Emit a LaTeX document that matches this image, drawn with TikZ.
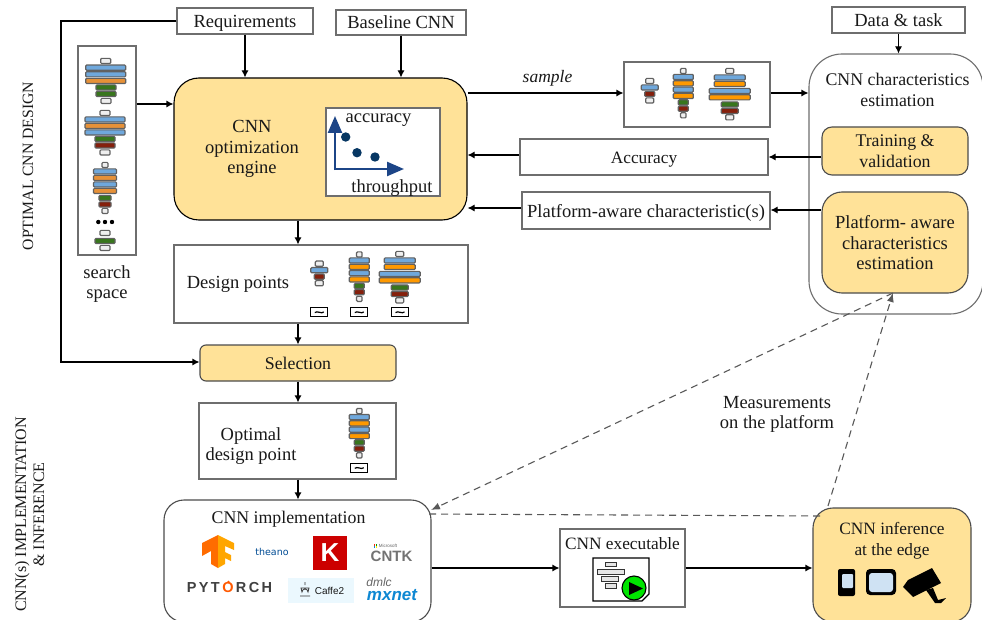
\documentclass[tikz,border=0pt]{standalone}
\usepackage{fontspec}
\setmainfont{Liberation Serif}
\setsansfont{Liberation Sans}
\newfontfamily\dejasans{DejaVu Sans}
\usetikzlibrary{arrows.meta}
\definecolor{yel}{HTML}{FFE298}
\definecolor{bord}{HTML}{6E6E6E}
\definecolor{lblue}{HTML}{6FA8DC}
\definecolor{lorange}{HTML}{FF9900}
\definecolor{sorange}{HTML}{E69138}
\definecolor{lgreen}{HTML}{38761D}
\definecolor{lred}{HTML}{85200C}
\definecolor{lwhite}{HTML}{EFEFEF}
\definecolor{chart}{HTML}{1C4587}
\definecolor{dotc}{HTML}{073763}
\definecolor{screenc}{HTML}{CFE2F3}
\newcommand{\fsm}{\fontsize{17.3}{20.5}\selectfont}
\newcommand{\fmd}{\fontsize{17.8}{20.5}\selectfont}
\tikzset{
 x=1pt,y=-1pt,
 txt/.style={font=\fontsize{18.5}{20.5}\selectfont,align=center,inner sep=0pt,text=black!90,text depth=0pt},
 box/.style={draw=bord,line width=1.1pt,fill=white,txt},
 ybox/.style={draw=black!70,line width=1.1pt,fill=yel,txt},
 conn/.style={line width=1.1pt,-{Latex[length=7pt,width=7pt]},black},
 dconn/.style={line width=1.1pt,dash pattern=on 7pt off 5pt,black!65},
}
\newcommand{\lay}[4]{\fill[#4,draw=black!62,line width=1.2pt,rounded corners=1pt] (#1-#3/2,#2-2.6) rectangle (#1+#3/2,#2+2.6);}
\newcommand{\tildebox}[2]{\draw[black,line width=1.2pt,fill=white] (#1-8.5,#2-4.5) rectangle (#1+8.5,#2+4.5);
 \draw[black,line width=1.2pt] (#1-4.5,#2+0.3) .. controls (#1-2,#2-2) and (#1+2,#2+2) .. (#1+4.5,#2-0.3);}
\newcommand{\boxN}[2]{%
 \lay{#1}{#2}{5.5}{lwhite}\lay{#1}{#2+6}{20}{lblue}\lay{#1}{#2+12.3}{20}{lorange}\lay{#1}{#2+18.6}{20}{lblue}\lay{#1}{#2+25}{20}{lorange}\lay{#1}{#2+31.4}{10}{lgreen}\lay{#1}{#2+37.7}{10}{lred}\lay{#1}{#2+44.3}{5.5}{lwhite}}
\newcommand{\netA}[2]{\lay{#1}{#2}{8}{lwhite}\lay{#1}{#2+6.5}{17}{lblue}\lay{#1}{#2+13}{10}{lred}\lay{#1}{#2+19.5}{8}{lwhite}}
\newcommand{\netC}[2]{\lay{#1}{#2}{8}{lwhite}\lay{#1}{#2+6.5}{31}{lblue}\lay{#1}{#2+13}{31}{lorange}\lay{#1}{#2+20}{41}{lblue}\lay{#1}{#2+26.3}{41}{lorange}\lay{#1}{#2+33.5}{17}{lgreen}\lay{#1}{#2+40}{17}{lred}\lay{#1}{#2+46.3}{8}{lwhite}}
\begin{document}
\begin{tikzpicture}
\useasboundingbox (0,0) rectangle (982,620);
\fill[white] (0,0) rectangle (982,620);

% side labels
\node[txt,rotate=90,font=\fontsize{15.7}{18}\selectfont] (lab1) at (28,166) {OPTIMAL CNN DESIGN};
\node[txt,rotate=90,font=\fontsize{16}{18}\selectfont] (lab2) at (29.5,514.5) {CNN(s) IMPLEMENTATION\\\& INFERENCE};

% main boxes
\node[box,minimum width=136pt,minimum height=26pt] (req) at (245,21) {Requirements};
\node[box,minimum width=130pt,minimum height=25pt] (base) at (401,22.5) {Baseline CNN};
\node[box,minimum width=133pt,minimum height=26pt] (data) at (898.5,20) {Data \& task};
\node[draw=bord,line width=1.1pt,fill=white,minimum width=58pt,minimum height=209pt,inner sep=0pt] (space) at (107,150.5) {};
\node[txt,anchor=center] (spacelab) at (107,282) {search\\space};
\node[ybox,draw=black,rounded corners=25pt,minimum width=293pt,minimum height=142pt] (engine) at (320.5,149) {};
\node[txt] (enginelab) at (252,147) {CNN\\optimization\\engine};
\node[box,minimum width=114pt,minimum height=88pt] (chart) at (383,152) {};
\node[txt] (acc) at (378.5,118) {accuracy};
\node[txt] (thr) at (392,186) {throughput};
\node[box,minimum width=146pt,minimum height=65pt] (sample) at (697,94.5) {};
\node[txt,font=\fontsize{17.5}{18}\selectfont\itshape] (samplelab) at (547.5,76) {sample};
\node[box,minimum width=248pt,minimum height=36pt,font=\fsm] (accb) at (644,157) {\raisebox{-1pt}{Accuracy}};
\node[box,minimum width=248pt,minimum height=37pt] (plat) at (646,210.5) {Platform-aware characteristic(s)};
\node[draw=bord,line width=1.1pt,fill=white,rounded corners=33pt,minimum width=174pt,minimum height=260pt] (char) at (896,184) {};
\node[txt,font=\fmd] (charlab) at (897.5,90) {CNN characteristics\\estimation};
\node[ybox,rounded corners=10pt,minimum width=146pt,minimum height=48pt,font=\fmd] (train) at (895,151) {Training \&\\validation};
\node[ybox,rounded corners=20pt,minimum width=146pt,minimum height=101pt] (pest) at (895,242.5) {Platform- aware\\characteristics\\estimation};
\node[box,minimum width=294pt,minimum height=78pt] (design) at (321,284) {};
\node[txt] (designlab) at (238,282) {Design points};
\node[ybox,rounded corners=6pt,minimum width=196pt,minimum height=36pt,font=\fmd] (sel) at (298,363) {\raisebox{-1pt}{Selection}};
\node[box,minimum width=197pt,minimum height=76pt] (opt) at (297.5,441) {};
\node[txt] (optlab) at (251,444) {Optimal\\design point};
\node[box,draw=black!70,rounded corners=20pt,minimum width=267pt,minimum height=122pt] (impl) at (297.5,561) {};
\node[txt,font=\fmd] (impllab) at (288.5,517) {CNN implementation};
\node[box,minimum width=125pt,minimum height=78pt] (exec) at (622.5,568) {};
\node[txt,font=\fsm] (execlab) at (622.5,543) {CNN executable};
\node[ybox,rounded corners=20pt,minimum width=158pt,minimum height=114pt] (inf) at (892,565) {};
\node[txt,font=\fsm] (inflab) at (892,539) {CNN inference\\at the edge};
\node[txt] (meas) at (777,412.5) {Measurements\\on the platform};

% connectors
\coordinate (c1) at (61,21);
\coordinate (c2) at (61,362);
\draw[conn] (req.west) -- (c1) -- (c2) -- (sel.west|-c2);
\draw[conn] (req.south) -- (req.south|-engine.north);
\draw[conn] (base.south) -- (base.south|-engine.north);
\draw[conn] (data.south) -- (data.south|-char.north);
\coordinate (s1) at (space.east|-0,104);
\draw[conn] (s1) -- (engine.west|-s1);
\coordinate (s2) at (engine.east|-0,93);
\draw[conn] (s2) -- (sample.west|-s2);
\coordinate (s3) at (sample.east|-0,93);
\draw[conn] (s3) -- (char.west|-s3);
\coordinate (s4) at (train.west|-0,157);
\draw[conn] (s4) -- (accb.east|-s4);
\coordinate (s5) at (accb.west|-0,155);
\draw[conn] (s5) -- (engine.east|-s5);
\coordinate (s6) at (pest.west|-0,210);
\draw[conn] (s6) -- (plat.east|-s6);
\coordinate (s7) at (plat.west|-0,208);
\draw[conn] (s7) -- (engine.east|-s7);
\coordinate (s8) at (298,0);
\draw[conn] (engine.south-|s8) -- (design.north-|s8);
\draw[conn] (design.south-|s8) -- (sel.north-|s8);
\draw[conn] (sel.south-|s8) -- (opt.north-|s8);
\draw[conn] (opt.south-|s8) -- (impl.north-|s8);
\coordinate (s9) at (0,568);
\draw[conn] (impl.east|-s9) -- (exec.west|-s9);
\draw[conn] (exec.east|-s9) -- (inf.west|-s9);
% dashed
\coordinate (d1) at (431,510);
\coordinate (d2) at (893,293);
\coordinate (d0) at (427,514);
\coordinate (d3) at (820,516);
\coordinate (d4) at (828,506);
\draw[dconn] (d3) -- (d0);
\draw[dconn,-{Latex[length=9pt,width=7pt]}] (d4) -- (d2);
\draw[dconn,-{Latex[length=9pt,width=7pt]}] (d2) -- (d1);

% chart
\draw[chart,line width=2.4pt,-{Triangle[length=17pt,width=14pt]}] (335,170.2) -- (335,116);
\draw[chart,line width=2.4pt,-{Triangle[length=17pt,width=14pt]}] (333.8,169) -- (404,169);
\fill[dotc] (345.7,137) circle (4.7);
\fill[dotc] (357,152.7) circle (4.7);
\fill[dotc] (375,157) circle (4.7);

% search-space networks
\lay{105.7}{61}{10}{lwhite}\lay{105.7}{67.7}{40}{lblue}\lay{105.7}{74.3}{40}{lblue}\lay{105.7}{81}{40}{sorange}\lay{106}{87.5}{20}{lgreen}\lay{106}{94}{20}{lgreen}\lay{106}{101}{10}{lwhite}
\lay{105}{113}{10}{lwhite}\lay{105}{119.5}{40}{lblue}\lay{105}{126}{40}{sorange}\lay{105}{132.5}{40}{lblue}\lay{105}{139}{20}{lgreen}\lay{105}{145.5}{20}{lred}\lay{105}{152.5}{10}{lwhite}
\lay{105}{165}{6}{lwhite}\lay{105}{171.5}{23}{lblue}\lay{105}{178}{23}{sorange}\lay{105}{184.5}{23}{lblue}\lay{105}{191}{23}{sorange}\lay{105}{198}{12}{lgreen}\lay{105}{204.5}{12}{lred}\lay{105}{211}{6}{lwhite}
\fill[black] (98.3,222) circle (2.2) (105,222) circle (2.2) (112,222) circle (2.2);
\lay{105}{233}{10}{lwhite}\lay{105}{241}{20}{lgreen}\lay{105}{248}{10}{lwhite}

% design points
\netA{319.3}{263.7}\boxN{359.3}{254.5}\netC{399.7}{254}
\tildebox{319.3}{312.3}\tildebox{359.3}{312.3}\tildebox{400}{312.3}
% sample
\netA{649.7}{81}\boxN{683.3}{71}\netC{729.7}{71}
% optimal
\boxN{359.3}{411}\tildebox{359.3}{468}

% framework logos
\fill[orange!85!red] (202,543) -- (218,535) -- (218,568) -- (211,564) -- (211,551) -- (202,556) -- cycle;
\fill[orange!70!yellow] (218,535) -- (234,543) -- (234,550) -- (225,546) -- (225,552) -- (231,555) -- (231,561) -- (225,558) -- (225,564) -- (218,568) -- cycle;
\node[font=\dejasans\fontsize{9.5}{12}\selectfont,text=black!30!blue!40!teal,inner sep=0pt] (theano) at (272,552) {theano};
\node[fill=red!80!black,minimum size=34pt,inner sep=0pt,text=white,font=\sffamily\bfseries\fontsize{26}{28}\selectfont] (keras) at (330,553) {K};
\fill[red!70!orange] (373.5,544) rectangle (375.2,545.7);
\fill[green!60!black] (375.6,544) rectangle (377.3,545.7);
\fill[cyan!70!blue] (373.5,546.1) rectangle (375.2,547.8);
\fill[yellow!90!orange] (375.6,546.1) rectangle (377.3,547.8);
\node[font=\sffamily\fontsize{4.5}{5}\selectfont,text=black!60,inner sep=0pt] (ms) at (388,546) {Microsoft};
\node[font=\sffamily\bfseries\fontsize{15}{16}\selectfont,text=black!55,inner sep=0pt] (cntk) at (391.5,556) {CNTK};
\node[font=\sffamily\bfseries\fontsize{14.5}{15}\selectfont,text=black!75,inner sep=0pt] (pt) at (229.5,588) {P\,Y\,T\,{\color{orange!70!red}O}\,R\,C\,H};
\fill[orange!70!red] (228.5,582) circle (1.3);
\node[fill=cyan!8,minimum width=66pt,minimum height=25pt,inner sep=0pt] (caffe) at (321,590.5) {};
\node[font=\sffamily\fontsize{10}{12}\selectfont,text=black!90,inner sep=0pt] (cafft) at (329.5,590.5) {Caffe2};
\draw[black!80,line width=0.8pt] (301,588) -- (309,588) -- (308,592) arc (0:-180:3) -- cycle (300,596) -- (310,596) (305,585) -- (305,582);
\node[font=\sffamily\itshape\fontsize{12}{13}\selectfont,text=black!60,inner sep=0pt] (dmlc) at (379,582) {dmlc};
\node[font=\sffamily\bfseries\itshape\fontsize{17}{18}\selectfont,text=cyan!70!blue,inner sep=0pt] (mx) at (392,595) {mxnet};

% executable icon
\fill[white,draw=black,line width=1.2pt] (593,558) -- (649,558) -- (649,594) -- (642,601) -- (593,601) -- cycle;
\foreach \yy/\xx/\ww in {564.5/610.5/11, 572/610.5/27, 579/609.5/17, 586/610.5/11}
  \draw[black!80,line width=0.9pt,fill=white!90!black] (\xx-\ww/2,\yy-2.3) rectangle (\xx+\ww/2,\yy+2.3);
\fill[green!90!black,draw=black,line width=1.1pt] (634,588) circle (12);
\fill[black] (629,582) -- (643,588.5) -- (629,595) -- cycle;

% edge devices
\fill[black,rounded corners=2pt] (838,569) rectangle (855,596);
\fill[screenc,rounded corners=1pt] (842,574) rectangle (853,588);
\fill[black,rounded corners=4pt] (866,569) rectangle (896,595);
\fill[screenc,rounded corners=3pt] (869,573) rectangle (893,592);
\fill[black] (908,580) -- (932,568) -- (941,583) -- (913,597) -- (903,587) -- cycle;
\fill[black] (933,588) -- (938,600) -- (946,598) -- (941,603) -- (935,603) -- (926,590) -- cycle;
\end{tikzpicture}
\end{document}
